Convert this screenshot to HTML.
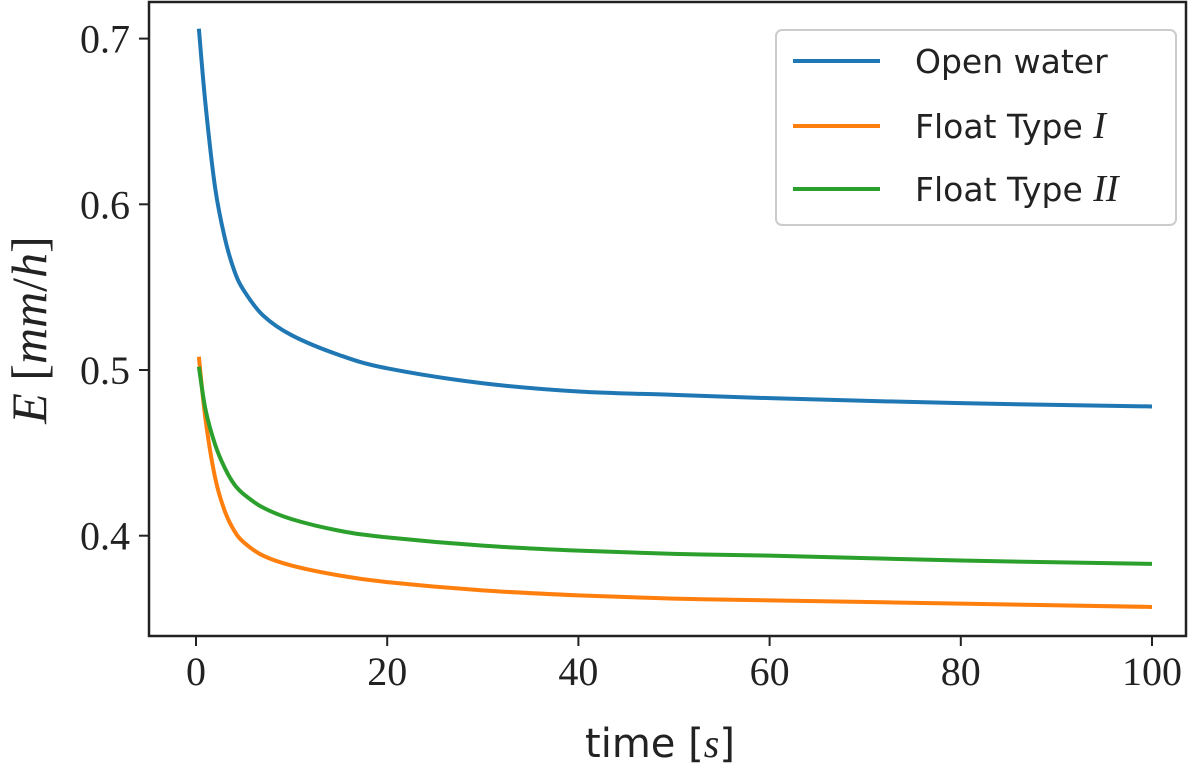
<!DOCTYPE html>
<html><head><meta charset="utf-8"><style>
body{margin:0;background:#fff;}
svg{display:block;}
.tk{font-family:"Liberation Serif",serif;font-size:40px;fill:#222;}
.lg{font-family:"DejaVu Sans","Liberation Sans",sans-serif;font-size:33px;fill:#222;}
</style></head><body>
<svg id="chart" width="1200" height="771" xmlns="http://www.w3.org/2000/svg">
<g id="plot"></g>
<rect x="149" y="2" width="1037" height="634" fill="none" stroke="#222" stroke-width="2.5"/>
<text x="660" y="757" text-anchor="middle" class="lg" style="font-size:40px">time [<tspan font-family="Liberation Serif" font-style="italic">s</tspan>]</text>
<text transform="translate(46,330) rotate(-90)" text-anchor="middle" style="font-family:'Liberation Serif',serif;font-size:50px;fill:#222"><tspan font-style="italic">E</tspan> [<tspan font-style="italic">mm</tspan>/<tspan font-style="italic">h</tspan>]</text>
<g>
<rect x="776" y="30" width="400" height="195" rx="6" fill="#fff" stroke="#ccc" stroke-width="2"/>
<line x1="793" y1="61" x2="880" y2="61" stroke="#1f77b4" stroke-width="4"/>
<text x="915" y="73" class="lg">Open water</text>
<line x1="793" y1="126" x2="880" y2="126" stroke="#ff7f0e" stroke-width="4"/>
<text x="915" y="138" class="lg">Float Type <tspan font-family="Liberation Serif" font-style="italic" font-size="38">I</tspan></text>
<line x1="793" y1="189" x2="880" y2="189" stroke="#2ca02c" stroke-width="4"/>
<text x="915" y="201" class="lg">Float Type <tspan font-family="Liberation Serif" font-style="italic" font-size="38">II</tspan></text>
</g>
</svg>
<script>
const times=[0.3,1,2,3,4,5,7,10,15,20,30,40,50,60,80,100];
const openWater=[0.706,0.66,0.61,0.58,0.56,0.548,0.533,0.521,0.509,0.501,0.492,0.487,0.485,0.483,0.480,0.478];
const floatI=[0.508,0.47,0.435,0.415,0.403,0.396,0.388,0.382,0.376,0.372,0.367,0.364,0.362,0.361,0.359,0.357];
const floatII=[0.502,0.476,0.455,0.441,0.431,0.425,0.417,0.410,0.403,0.399,0.394,0.391,0.389,0.388,0.385,0.383];
const xTicks=[0,20,40,60,80,100];
const yTicks=[0.4,0.5,0.6,0.7];
const NS="http://www.w3.org/2000/svg";
const X=v=>196+v*9.56;
const Y=v=>370-(v-0.5)*1657;
const svg=document.getElementById('chart');
const plot=document.getElementById('plot');
function mk(t,a){const e=document.createElementNS(NS,t);for(const k in a)e.setAttribute(k,a[k]);return e;}
xTicks.forEach(v=>{
 const l=mk('line',{x1:X(v),x2:X(v),y1:636,y2:646,stroke:'#222','stroke-width':2});
 
 
 svg.appendChild(l);
 const t=mk('text',{x:X(v),y:685,'text-anchor':'middle',class:'tk'});
 
 
 t.textContent=v;svg.appendChild(t);
});
yTicks.forEach(v=>{
 const l=mk('line',{x1:139,x2:149,y1:Y(v),y2:Y(v),stroke:'#222','stroke-width':2});
 
 
 svg.appendChild(l);
 const t=mk('text',{x:130,y:Y(v)+14,'text-anchor':'end',class:'tk'});
 
 
 t.textContent=v.toFixed(1);svg.appendChild(t);
});
function path(vals){
 const p=times.map((t,i)=>[X(t),Y(vals[i])]);
 let d='M'+p[0][0]+','+p[0][1];
 for(let i=0;i<p.length-1;i++){
  const p0=p[Math.max(0,i-1)],p1=p[i],p2=p[i+1],p3=p[Math.min(p.length-1,i+2)];
  const c1=[p1[0]+(p2[0]-p0[0])/6,p1[1]+(p2[1]-p0[1])/6];
  const c2=[p2[0]-(p3[0]-p1[0])/6,p2[1]-(p3[1]-p1[1])/6];
  d+=` C${c1[0]},${c1[1]} ${c2[0]},${c2[1]} ${p2[0]},${p2[1]}`;
 }
 return d;
}
[[openWater,'#1f77b4','series-open-water'],[floatI,'#ff7f0e','series-float-type-1'],[floatII,'#2ca02c','series-float-type-2']].forEach(s=>{
 const e=mk('path',{d:path(s[0]),fill:'none',stroke:s[1],'stroke-width':4,'stroke-linejoin':'round'});
 
 
 plot.appendChild(e);
});
</script>
</body></html>
